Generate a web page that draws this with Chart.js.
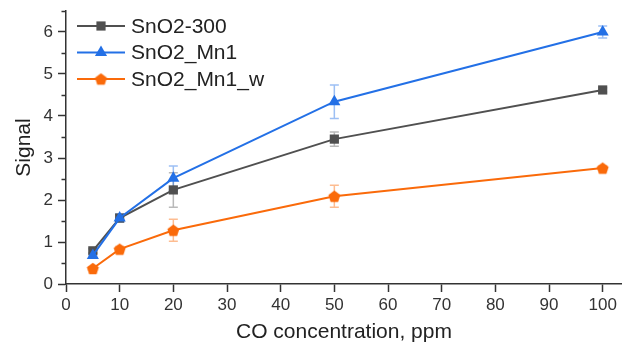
<html>
<head>
<script src="https://cdn.jsdelivr.net/npm/chart.js@4.4.0/dist/chart.umd.min.js"></script>
<style>
	body { margin: 0; background: #fff; }
</style>
</head>
<body>
<canvas id="mychart" width="622" height="349"></canvas>
<script>
	// data
	const concentrations = [5, 10, 20, 50, 100];
	const sno2_300 = [0.79, 1.57, 2.24, 3.45, 4.62];
	const sno2_300_err = [0.05, 0.08, 0.41, 0.17, 0.05];
	const sno2_mn1 = [0.68, 1.57, 2.52, 4.34, 6.0];
	const sno2_mn1_err = [0.05, 0.1, 0.29, 0.4, 0.14];
	const sno2_mn1_w = [0.37, 0.83, 1.28, 2.09, 2.76];
	const sno2_mn1_w_err = [0.04, 0.06, 0.26, 0.26, 0.05];

	const xTicks = [0, 10, 20, 30, 40, 50, 60, 70, 80, 90, 100];
	const yTicks = [0, 1, 2, 3, 4, 5, 6];
	const yMinorTicks = [0.5, 1.5, 2.5, 3.5, 4.5, 5.5, 6.5];

	const FONT = "'Liberation Sans', Arial, sans-serif";
	const AXIS = '#333333';

	// pentagon marker, chart.js has no built-in one
	function pentagon(color, r){
		let c = document.createElement('canvas');
		let s = Math.ceil(r * 2) + 2;
		c.width = s; c.height = s;
		let g = c.getContext('2d');
		g.fillStyle = color;
		g.beginPath();
		for(let i=0;i<5;i++){
			let a = -Math.PI/2 + i * 2*Math.PI/5;
			let px = s/2 + r*Math.cos(a), py = s/2 + 0.6 + r*Math.sin(a);
			if(i==0) g.moveTo(px,py); else g.lineTo(px,py);
		}
		g.closePath();
		g.fill();
		return c;
	}

	const series = [
		{ label: 'SnO2-300', data: sno2_300, err: sno2_300_err, color: '#505050', errColor: 'rgba(80,80,80,0.4)', style: 'rect', radius: 6.5, order: 2 },
		{ label: 'SnO2_Mn1', data: sno2_mn1, err: sno2_mn1_err, color: '#2370E6', errColor: 'rgba(35,112,230,0.45)', style: 'triangle', radius: 7, order: 1 },
		{ label: 'SnO2_Mn1_w', data: sno2_mn1_w, err: sno2_mn1_w_err, color: '#FA6A0A', errColor: 'rgba(250,106,10,0.45)', style: pentagon('#FA6A0A', 6.3), radius: 6.5, order: 3 }
	];

	const errorBars = {
		id: 'errorBars',
		beforeDatasetsDraw(chart){
			const ctx = chart.ctx, xs = chart.scales.x, ys = chart.scales.y;
			ctx.save();
			ctx.lineWidth = 1.5;
			series.forEach(s => {
				ctx.strokeStyle = s.errColor;
				for(let j=0;j<concentrations.length;j++){
					let x = xs.getPixelForValue(concentrations[j]);
					let y1 = ys.getPixelForValue(s.data[j] + s.err[j]);
					let y2 = ys.getPixelForValue(s.data[j] - s.err[j]);
					ctx.beginPath();
					ctx.moveTo(x, y1); ctx.lineTo(x, y2);
					ctx.moveTo(x-4.5, y1); ctx.lineTo(x+4.5, y1);
					ctx.moveTo(x-4.5, y2); ctx.lineTo(x+4.5, y2);
					ctx.stroke();
				}
			});
			ctx.restore();
		}
	};

	function drawMarker(ctx, s, x, y){
		ctx.fillStyle = s.color;
		if(s.style == 'rect'){
			let h = s.radius * Math.SQRT1_2;
			ctx.fillRect(x-h, y-h, 2*h, 2*h);
		} else if(s.style == 'triangle'){
			ctx.beginPath();
			for(let i=0;i<3;i++){
				let a = i * 2*Math.PI/3;
				let px = x + Math.sin(a)*s.radius, py = y - Math.cos(a)*s.radius;
				if(i==0) ctx.moveTo(px,py); else ctx.lineTo(px,py);
			}
			ctx.closePath();
			ctx.fill();
		} else {
			ctx.drawImage(s.style, x - s.style.width/2, y - s.style.height/2);
		}
	}

	const extras = {
		id: 'extras',
		afterDraw(chart){
			const ctx = chart.ctx, xs = chart.scales.x, ys = chart.scales.y;
			ctx.save();
			// minor ticks on y
			ctx.strokeStyle = AXIS;
			ctx.lineWidth = 1.5;
			yMinorTicks.forEach(v => {
				let y = Math.round(ys.getPixelForValue(v)) + 0.5;
				ctx.beginPath();
				ctx.moveTo(xs.left - 4.5, y);
				ctx.lineTo(xs.left, y);
				ctx.stroke();
			});
			// legend
			ctx.font = '21px ' + FONT;
			ctx.textBaseline = 'middle';
			ctx.textAlign = 'left';
			series.forEach((s, i) => {
				let y = 26 + i * 26.5;
				ctx.strokeStyle = s.color;
				ctx.lineWidth = 2;
				ctx.beginPath();
				ctx.moveTo(77, y); ctx.lineTo(125, y);
				ctx.stroke();
				drawMarker(ctx, s, 101, y);
				ctx.fillStyle = '#222';
				ctx.fillText(s.label, 131, y + 1);
			});
			ctx.restore();
		}
	};

	function noPad(sc){
		sc.paddingLeft = 0; sc.paddingRight = 0;
		sc.paddingTop = 0; sc.paddingBottom = 0;
	}

	let chart = new Chart(document.getElementById('mychart'), {
		type: 'line',
		data: {
			datasets: series.map(s => ({
				label: s.label,
				data: concentrations.map((c, j) => ({ x: c, y: s.data[j] })),
				borderColor: s.color,
				backgroundColor: s.color,
				borderWidth: 2,
				pointStyle: s.style,
				pointRadius: s.radius,
				pointHoverRadius: s.radius,
				pointBorderWidth: 0,
				order: s.order,
				clip: false,
				tension: 0
			}))
		},
		options: {
			responsive: false,
			animation: false,
			devicePixelRatio: 1,
			layout: { autoPadding: false, padding: { top: 11, right: 0, left: 0, bottom: 0 } },
			plugins: { legend: { display: false }, tooltip: { enabled: false } },
			scales: {
				x: {
					type: 'linear',
					min: 0, max: 103.6,
					afterBuildTicks: sc => { sc.ticks = xTicks.map(v => ({ value: v })); },
					afterFit: sc => { sc.height = 65; noPad(sc); },
					grid: { drawOnChartArea: false, tickLength: 8, tickColor: AXIS, tickWidth: 1.5 },
					border: { color: AXIS, width: 1.5 },
					ticks: { color: '#333', font: { family: FONT, size: 17 }, padding: 3, maxRotation: 0 },
					title: { display: true, text: 'CO concentration, ppm', color: '#222', font: { family: FONT, size: 21 }, padding: { bottom: 4 } }
				},
				y: {
					min: 0, max: 6.5,
					afterBuildTicks: sc => { sc.ticks = yTicks.map(v => ({ value: v })); },
					afterFit: sc => { sc.width = 66; noPad(sc); },
					grid: { drawOnChartArea: false, tickLength: 8, tickColor: AXIS, tickWidth: 1.5 },
					border: { color: AXIS, width: 1.5 },
					ticks: { color: '#333', font: { family: FONT, size: 17 }, padding: 5 },
					title: { display: true, text: 'Signal', color: '#222', font: { family: FONT, size: 21 }, padding: { top: 12 } }
				}
			}
		},
		plugins: [errorBars, extras]
	});
</script>
</body>
</html>
